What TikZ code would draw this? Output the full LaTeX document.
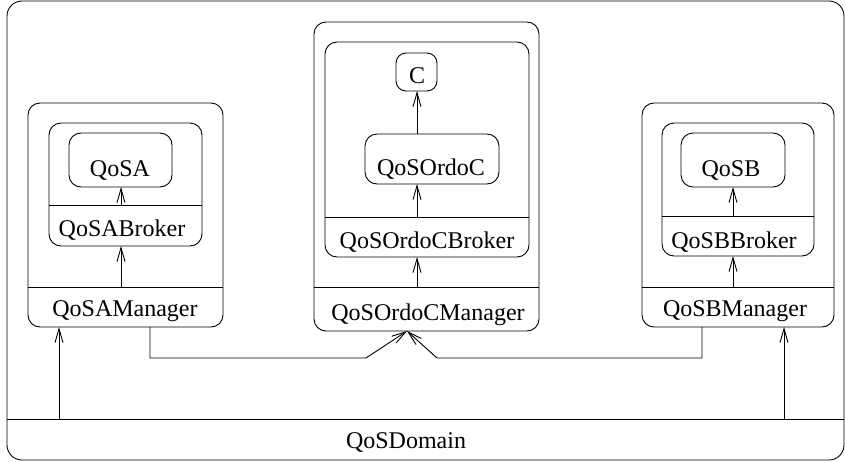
\documentclass[tikz,border=0pt]{standalone}
\usepackage{fontspec}
\setmainfont{Liberation Serif}
\usetikzlibrary{arrows.meta,fit}
\begin{document}
\begin{tikzpicture}[x=1pt,y=-1pt,
 box/.style={draw, line width=0.9pt, rounded corners=12pt, inner sep=0pt, outer sep=0pt},
 lbl/.style={font=\fontsize{24}{28}\selectfont, anchor=base, inner sep=0pt},
 arr/.style={line width=0.9pt, -{Straight Barb[length=14pt,width=8pt,line width=0.9pt]}},
 wire/.style={line width=0.9pt}]
\useasboundingbox (0,0) rectangle (845,461);
% Domain
\node[box, rounded corners=15pt, fit={(7,1) (844,460)}] (dom) {};
\draw[wire] (dom.west |- 0,419) -- (dom.east |- 0,419);
\node[lbl] (domT) at (406,448) {QoSDomain};
% A
\node[box, fit={(28,103) (223,327)}] (Aout) {};
\draw[wire] (Aout.west |- 0,287) -- (Aout.east |- 0,287);
\node[lbl] (Amgr) at (125,316) {QoSAManager};
\node[box, fit={(49,123) (202,246)}] (Abrk) {};
\draw[wire] (Abrk.west |- 0,205) -- (Abrk.east |- 0,205);
\node[lbl] (AbrkT) at (122,236) {QoSABroker};
\node[box, fit={(69,133) (172,187)}] (qa) {};
\node[lbl] (qaT) at (120,176) {QoSA};
\coordinate (a1) at (121,205);
\coordinate (a2) at (121,287);
\draw[arr] (a1) -- (a1 |- qa.south);
\draw[arr] (a2) -- (a2 |- Abrk.south);
% C
\node[box, fit={(314,22) (539,331)}] (Cout) {};
\draw[wire] (Cout.west |- 0,287) -- (Cout.east |- 0,287);
\node[lbl] (Cmgr) at (428,320) {QoSOrdoCManager};
\node[box, fit={(325,42) (529,257)}] (Cbrk) {};
\draw[wire] (Cbrk.west |- 0,217) -- (Cbrk.east |- 0,217);
\node[lbl] (CbrkT) at (427,248) {QoSOrdoCBroker};
\node[box, fit={(365,134) (499,184)}] (qoc) {};
\node[lbl] (qocT) at (431,175) {QoSOrdoC};
\node[box, rounded corners=10pt, fit={(396,53) (437,91)}] (cc) {};
\node[lbl] (ccT) at (417,83) {C};
\coordinate (c1) at (417,217);
\coordinate (c2) at (417,134);
\coordinate (c3) at (417,287);
\draw[arr] (c1) -- (c1 |- qoc.south);
\draw[arr] (c2) -- (c2 |- cc.south);
\draw[arr] (c3) -- (c3 |- Cbrk.south);
% B
\node[box, fit={(642,103) (834,327)}] (Bout) {};
\draw[wire] (Bout.west |- 0,287) -- (Bout.east |- 0,287);
\node[lbl] (Bmgr) at (735,316) {QoSBManager};
\node[box, fit={(662,123) (814,256)}] (Bbrk) {};
\draw[wire] (Bbrk.west |- 0,216) -- (Bbrk.east |- 0,216);
\node[lbl] (BbrkT) at (734,248) {QoSBBroker};
\node[box, fit={(681,133) (785,187)}] (qb) {};
\node[lbl] (qbT) at (731,176) {QoSB};
\coordinate (b1) at (733,216);
\coordinate (b2) at (733,287);
\draw[arr] (b1) -- (b1 |- qb.south);
\draw[arr] (b2) -- (b2 |- Bbrk.south);
% connectors between managers
\coordinate (tip) at (407,331);
\draw[arr] (Aout.south -| 150,0) -- (150,358) -- (366,358) -- (tip);
\draw[arr] (Bout.south -| 702,0) -- (702,358) -- (437,358) -- (tip);
% domain links
\coordinate (d1) at (59,419);
\coordinate (d2) at (784,419);
\draw[arr] (d1) -- (d1 |- Aout.south);
\draw[arr] (d2) -- (d2 |- Bout.south);
\end{tikzpicture}
\end{document}
